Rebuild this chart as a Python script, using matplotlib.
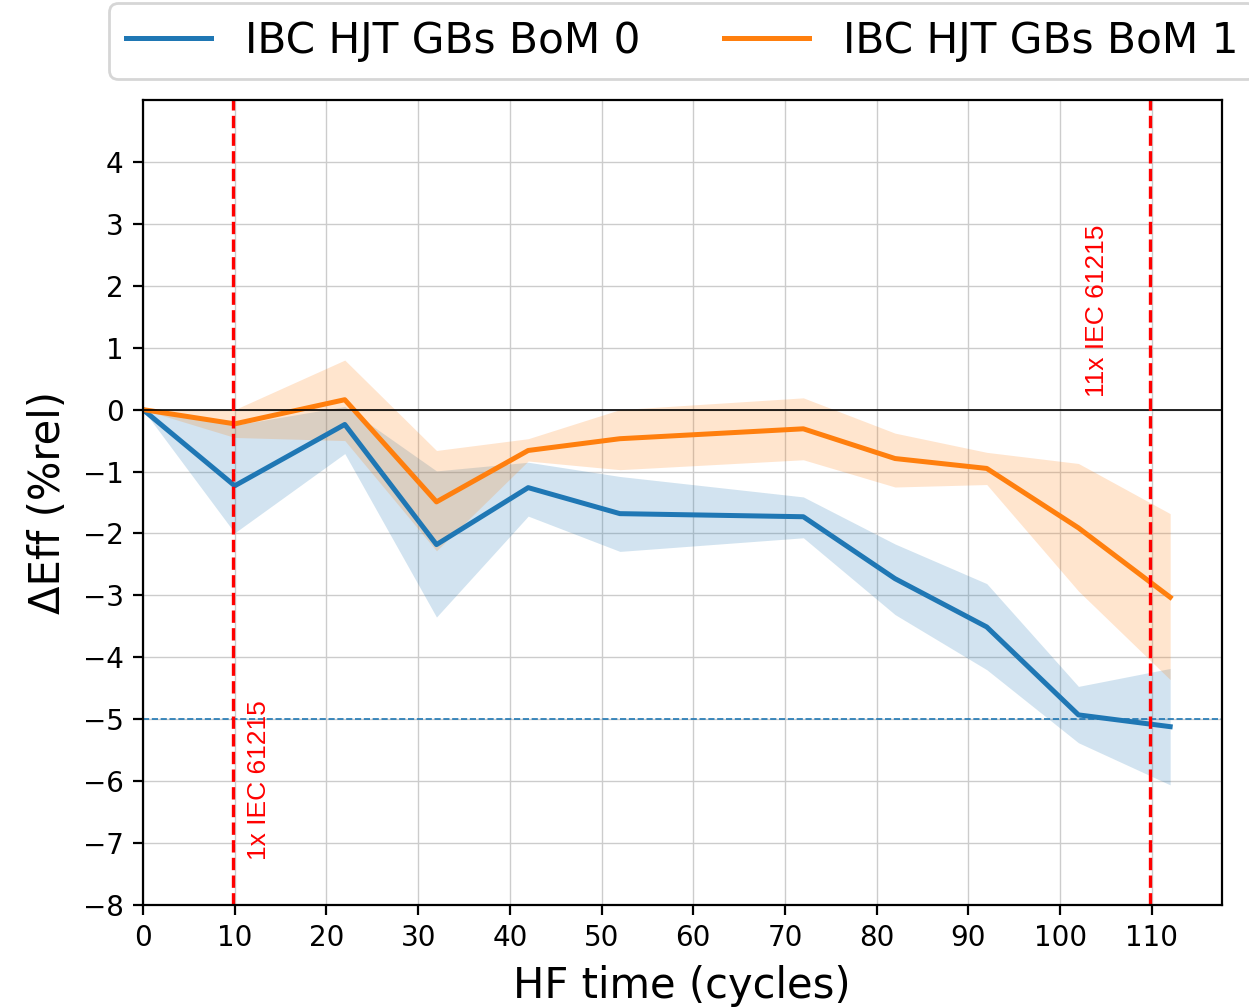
import matplotlib
matplotlib.use("Agg")
import matplotlib.pyplot as plt
import numpy as np

# HF cycles at each readout
cycles = [0, 10, 22, 32, 42, 52, 72, 82, 92, 102, 112]

# BoM 0: mean and band limits (%rel)
bom0_mean = [0, -1.23, -0.24, -2.18, -1.26, -1.68, -1.73, -2.73, -3.51, -4.93, -5.12]
bom0_upper = [0, -0.25, 0.05, -0.99, -0.85, -1.08, -1.41, -2.17, -2.81, -4.47, -4.18]
bom0_lower = [0, -1.99, -0.71, -3.35, -1.72, -2.29, -2.07, -3.31, -4.20, -5.38, -6.06]

# BoM 1
bom1_mean = [0, -0.23, 0.16, -1.49, -0.66, -0.47, -0.31, -0.79, -0.95, -1.91, -3.03]
bom1_upper = [0, 0.0, 0.80, -0.66, -0.47, 0.0, 0.19, -0.38, -0.69, -0.87, -1.68]
bom1_lower = [0, -0.45, -0.50, -2.28, -0.83, -0.97, -0.81, -1.25, -1.21, -2.93, -4.36]

labels = ["IBC HJT GBs BoM 0", "IBC HJT GBs BoM 1"]
iec_marks = [9.8, 109.8]
iec_text = ["1x IEC 61215", "11x IEC 61215"]
iec_text_pos = [(12.7, -7.27), (104.0, 0.21)]
limit = -5


def main() -> None:
    fig = plt.figure(figsize=(6.245, 5.035), dpi=200)
    ax = fig.add_axes([0.1145, 0.1013, 0.8635, 0.7994])

    x = np.array(cycles)
    series = [(bom0_mean, bom0_lower, bom0_upper, "C0"),
              (bom1_mean, bom1_lower, bom1_upper, "C1")]
    for (m, lo, hi, col), lab in zip(series, labels):
        ax.plot(x, m, color=col, lw=1.8, label=lab)
        ax.fill_between(x, lo, hi, color=col, alpha=0.2, lw=0)

    ax.axhline(0, color="black", lw=0.6)
    ax.axhline(limit, color="C0", lw=0.6, ls="--")
    for xv, txt, (tx, ty) in zip(iec_marks, iec_text, iec_text_pos):
        ax.axvline(xv, color="red", lw=1.2, ls="--")
        ax.text(tx, ty, txt, color="red", rotation=90, fontsize=9.5,
                ha="center", va="bottom", family="Liberation Sans")

    ax.set_xlim(0, 117.6)
    ax.set_ylim(-8, 5)
    ax.set_xticks(range(0, 111, 10))
    ax.set_yticks(range(-8, 5))
    ax.tick_params(labelsize=10)
    ax.grid(True, color="#cccccc", lw=0.5)
    ax.set_axisbelow(True)
    ax.set_xlabel("HF time (cycles)", fontsize=15, labelpad=4.5)
    ax.set_ylabel("ΔEff (%rel)", fontsize=15, labelpad=5)

    ax.legend(loc="lower center", bbox_to_anchor=(0.5, 1.0), ncol=2,
              fontsize=15.2, framealpha=0.8)

    fig.savefig("out.png", dpi=200, facecolor="white")
    plt.close(fig)


if __name__ == "__main__":
    main()
